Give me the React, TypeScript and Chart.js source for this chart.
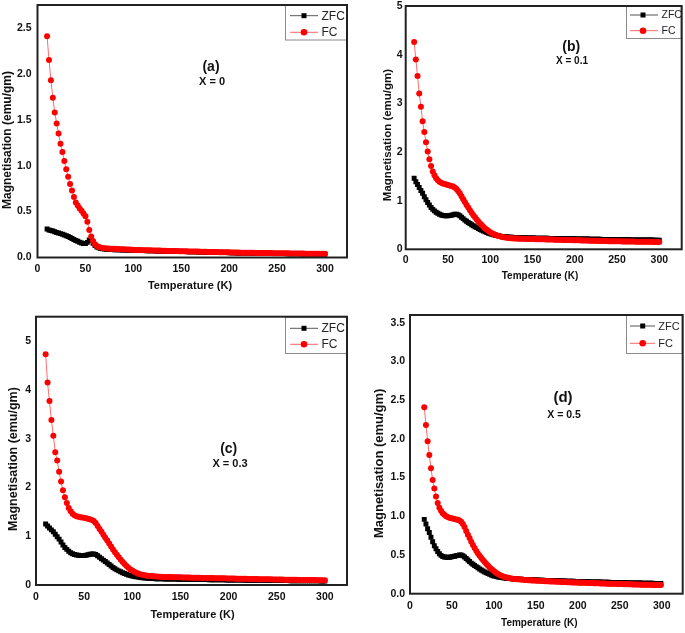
import React, { useEffect, useRef } from "react";
import { Chart, registerables } from "chart.js";
Chart.register(...registerables);

const FONT = "'Liberation Sans', Arial, Helvetica, sans-serif";

// ---------- DATA ----------
const tempsABC = [
  10, 12, 14, 16, 18, 20, 22, 24, 26, 28,
  30, 32, 34, 36, 38, 40, 42, 44, 46, 48,
  50, 52, 54, 56, 58, 60, 62, 64, 66, 68,
  70, 72, 74, 76, 78, 80, 82, 84, 86, 88,
  90, 92, 94, 96, 98, 100, 102, 104, 106, 108,
  110, 112, 114, 116, 118, 120, 122, 124, 126, 128,
  130, 132, 134, 136, 138, 140, 142, 144, 146, 148,
  150, 152, 154, 156, 158, 160, 162, 164, 166, 168,
  170, 172, 174, 176, 178, 180, 182, 184, 186, 188,
  190, 192, 194, 196, 198, 200, 202, 204, 206, 208,
  210, 212, 214, 216, 218, 220, 222, 224, 226, 228,
  230, 232, 234, 236, 238, 240, 242, 244, 246, 248,
  250, 252, 254, 256, 258, 260, 262, 264, 266, 268,
  270, 272, 274, 276, 278, 280, 282, 284, 286, 288,
  290, 292, 294, 296, 298, 300,
];

const tempsD = [
  17, 19, 21, 23, 25, 27, 29, 31, 33, 35,
  37, 39, 41, 43, 45, 47, 49, 51, 53, 55,
  57, 59, 61, 63, 65, 67, 69, 71, 73, 75,
  77, 79, 81, 83, 85, 87, 89, 91, 93, 95,
  97, 99, 101, 103, 105, 107, 109, 111, 113, 115,
  117, 119, 121, 123, 125, 127, 129, 131, 133, 135,
  137, 139, 141, 143, 145, 147, 149, 151, 153, 155,
  157, 159, 161, 163, 165, 167, 169, 171, 173, 175,
  177, 179, 181, 183, 185, 187, 189, 191, 193, 195,
  197, 199, 201, 203, 205, 207, 209, 211, 213, 215,
  217, 219, 221, 223, 225, 227, 229, 231, 233, 235,
  237, 239, 241, 243, 245, 247, 249, 251, 253, 255,
  257, 259, 261, 263, 265, 267, 269, 271, 273, 275,
  277, 279, 281, 283, 285, 287, 289, 291, 293, 295,
  297, 299,
];

const fcA = [
  2.41, 2.15, 1.93, 1.74, 1.58, 1.46, 1.35, 1.24, 1.15, 1.05,
  0.96, 0.88, 0.80, 0.73, 0.66, 0.60, 0.565, 0.535, 0.51, 0.48,
  0.45, 0.39, 0.30, 0.23, 0.18, 0.145, 0.125, 0.115, 0.108, 0.104,
  0.101, 0.099, 0.097, 0.096, 0.095, 0.094, 0.093, 0.092, 0.091, 0.09,
  0.089, 0.088, 0.087, 0.086, 0.085, 0.084, 0.083, 0.083, 0.082, 0.081,
  0.08, 0.08, 0.079, 0.078, 0.078, 0.077, 0.076, 0.076, 0.075, 0.075,
  0.074, 0.073, 0.073, 0.072, 0.072, 0.071, 0.071, 0.07, 0.07, 0.069,
  0.068, 0.068, 0.067, 0.067, 0.066, 0.066, 0.065, 0.065, 0.064, 0.064,
  0.063, 0.063, 0.062, 0.062, 0.061, 0.061, 0.06, 0.06, 0.059, 0.059,
  0.058, 0.058, 0.057, 0.057, 0.056, 0.056, 0.055, 0.055, 0.055, 0.054,
  0.054, 0.053, 0.053, 0.053, 0.052, 0.052, 0.051, 0.051, 0.051, 0.05,
  0.05, 0.05, 0.049, 0.049, 0.049, 0.048, 0.048, 0.048, 0.047, 0.047,
  0.047, 0.046, 0.046, 0.046, 0.045, 0.045, 0.045, 0.044, 0.044, 0.044,
  0.044, 0.043, 0.043, 0.043, 0.043, 0.042, 0.042, 0.042, 0.042, 0.041,
  0.041, 0.041, 0.041, 0.04, 0.04, 0.04,
];

const zfcA = [
  0.31, 0.30, 0.295, 0.288, 0.28, 0.273, 0.266, 0.26, 0.253, 0.245,
  0.237, 0.228, 0.218, 0.207, 0.196, 0.186, 0.176, 0.167, 0.158, 0.152,
  0.152, 0.165, 0.19, 0.185, 0.155, 0.13, 0.115, 0.105, 0.098, 0.094,
  0.091, 0.089, 0.088, 0.087, 0.086, 0.085, 0.084, 0.084, 0.083, 0.082,
  0.081, 0.081, 0.08, 0.079, 0.079, 0.078, 0.077, 0.077, 0.076, 0.076,
  0.075, 0.075, 0.074, 0.073, 0.073, 0.072, 0.072, 0.071, 0.071, 0.07,
  0.07, 0.069, 0.069, 0.068, 0.068, 0.067, 0.067, 0.066, 0.066, 0.065,
  0.065, 0.064, 0.064, 0.063, 0.063, 0.062, 0.062, 0.061, 0.061, 0.06,
  0.06, 0.059, 0.059, 0.058, 0.058, 0.057, 0.057, 0.056, 0.056, 0.055,
  0.055, 0.054, 0.054, 0.053, 0.053, 0.052, 0.052, 0.051, 0.051, 0.05,
  0.05, 0.05, 0.049, 0.049, 0.048, 0.048, 0.048, 0.047, 0.047, 0.047,
  0.046, 0.046, 0.046, 0.045, 0.045, 0.045, 0.044, 0.044, 0.044, 0.043,
  0.043, 0.043, 0.042, 0.042, 0.042, 0.041, 0.041, 0.041, 0.041, 0.04,
  0.04, 0.04, 0.04, 0.039, 0.039, 0.039, 0.039, 0.038, 0.038, 0.038,
  0.038, 0.037, 0.037, 0.037, 0.037, 0.036,
];

const fcB = [
  4.26, 3.9, 3.56, 3.2, 2.93, 2.63, 2.41, 2.2, 2.01, 1.85,
  1.71, 1.6, 1.52, 1.46, 1.42, 1.39, 1.37, 1.35, 1.34, 1.33,
  1.32, 1.31, 1.3, 1.29, 1.27, 1.24, 1.2, 1.15, 1.09, 1.03,
  0.97, 0.91, 0.86, 0.8, 0.75, 0.7, 0.66, 0.61, 0.57, 0.53,
  0.5, 0.46, 0.43, 0.4, 0.375, 0.35, 0.33, 0.315, 0.3, 0.285,
  0.272, 0.262, 0.254, 0.247, 0.241, 0.236, 0.232, 0.229, 0.226, 0.224,
  0.222, 0.22, 0.219, 0.218, 0.217, 0.216, 0.215, 0.214, 0.213, 0.212,
  0.211, 0.21, 0.209, 0.208, 0.207, 0.206, 0.205, 0.204, 0.203, 0.202,
  0.201, 0.2, 0.199, 0.198, 0.197, 0.196, 0.195, 0.194, 0.193, 0.192,
  0.191, 0.19, 0.19, 0.189, 0.188, 0.187, 0.186, 0.185, 0.184, 0.183,
  0.182, 0.181, 0.18, 0.179, 0.178, 0.177, 0.176, 0.175, 0.174, 0.173,
  0.172, 0.172, 0.171, 0.17, 0.169, 0.168, 0.167, 0.166, 0.166, 0.165,
  0.164, 0.163, 0.163, 0.162, 0.161, 0.161, 0.16, 0.159, 0.159, 0.158,
  0.158, 0.157, 0.157, 0.156, 0.156, 0.155, 0.155, 0.154, 0.154, 0.153,
  0.153, 0.153, 0.152, 0.152, 0.152, 0.151,
];

const zfcB = [
  1.46, 1.39, 1.33, 1.27, 1.21, 1.15, 1.08, 1.02, 0.96, 0.91,
  0.86, 0.82, 0.79, 0.76, 0.74, 0.72, 0.705, 0.695, 0.69, 0.69,
  0.69, 0.695, 0.7, 0.71, 0.72, 0.72, 0.71, 0.69, 0.66, 0.63,
  0.6, 0.575, 0.55, 0.53, 0.505, 0.485, 0.465, 0.445, 0.425, 0.405,
  0.39, 0.375, 0.36, 0.345, 0.33, 0.32, 0.31, 0.3, 0.29, 0.283,
  0.277, 0.271, 0.266, 0.262, 0.258, 0.254, 0.251, 0.248, 0.246, 0.244,
  0.242, 0.241, 0.24, 0.239, 0.238, 0.237, 0.236, 0.235, 0.234, 0.233,
  0.232, 0.231, 0.23, 0.23, 0.229, 0.228, 0.228, 0.227, 0.226, 0.226,
  0.225, 0.224, 0.224, 0.223, 0.222, 0.222, 0.221, 0.22, 0.22, 0.219,
  0.218, 0.218, 0.217, 0.216, 0.216, 0.215, 0.214, 0.214, 0.213, 0.212,
  0.212, 0.211, 0.21, 0.21, 0.209, 0.208, 0.208, 0.207, 0.206, 0.206,
  0.205, 0.204, 0.204, 0.203, 0.202, 0.202, 0.201, 0.2, 0.2, 0.199,
  0.199, 0.198, 0.198, 0.197, 0.197, 0.196, 0.196, 0.195, 0.195, 0.194,
  0.194, 0.193, 0.193, 0.193, 0.192, 0.192, 0.191, 0.191, 0.191, 0.19,
  0.19, 0.19, 0.189, 0.189, 0.189, 0.188,
];

const fcC = [
  4.73, 4.15, 3.77, 3.38, 3.06, 2.72, 2.55, 2.32, 2.12, 1.94,
  1.8, 1.68, 1.58, 1.51, 1.46, 1.43, 1.41, 1.4, 1.39, 1.385,
  1.38, 1.37, 1.36, 1.35, 1.33, 1.31, 1.27, 1.21, 1.15, 1.09,
  1.03, 0.97, 0.91, 0.85, 0.79, 0.73, 0.67, 0.62, 0.57, 0.52,
  0.47, 0.43, 0.39, 0.355, 0.32, 0.295, 0.27, 0.25, 0.235, 0.222,
  0.212, 0.204, 0.197, 0.191, 0.186, 0.182, 0.178, 0.175, 0.172, 0.17,
  0.168, 0.166, 0.165, 0.164, 0.163, 0.162, 0.161, 0.16, 0.159, 0.158,
  0.157, 0.156, 0.155, 0.154, 0.153, 0.152, 0.151, 0.15, 0.149, 0.148,
  0.147, 0.146, 0.145, 0.145, 0.144, 0.143, 0.142, 0.141, 0.14, 0.139,
  0.138, 0.137, 0.136, 0.136, 0.135, 0.134, 0.133, 0.132, 0.131, 0.13,
  0.13, 0.129, 0.128, 0.127, 0.126, 0.125, 0.125, 0.124, 0.123, 0.122,
  0.121, 0.12, 0.12, 0.119, 0.118, 0.117, 0.116, 0.116, 0.115, 0.114,
  0.113, 0.112, 0.112, 0.111, 0.11, 0.109, 0.109, 0.108, 0.107, 0.106,
  0.106, 0.105, 0.104, 0.104, 0.103, 0.102, 0.102, 0.101, 0.101, 0.1,
  0.1, 0.099, 0.099, 0.098, 0.098, 0.097,
];

const zfcC = [
  1.25, 1.21, 1.17, 1.13, 1.09, 1.04, 0.99, 0.94, 0.88, 0.82,
  0.77, 0.73, 0.69, 0.66, 0.64, 0.625, 0.615, 0.61, 0.605, 0.605,
  0.605, 0.61, 0.62, 0.63, 0.635, 0.635, 0.625, 0.6, 0.57, 0.54,
  0.51, 0.48, 0.45, 0.42, 0.39, 0.36, 0.335, 0.31, 0.29, 0.27,
  0.25, 0.235, 0.22, 0.205, 0.195, 0.185, 0.175, 0.168, 0.161, 0.155,
  0.15, 0.146, 0.142, 0.139, 0.136, 0.134, 0.132, 0.13, 0.129, 0.128,
  0.127, 0.126, 0.125, 0.124, 0.123, 0.122, 0.121, 0.121, 0.12, 0.119,
  0.118, 0.118, 0.117, 0.116, 0.116, 0.115, 0.114, 0.114, 0.113, 0.112,
  0.112, 0.111, 0.111, 0.11, 0.11, 0.109, 0.108, 0.108, 0.107, 0.107,
  0.106, 0.106, 0.105, 0.105, 0.104, 0.104, 0.103, 0.103, 0.102, 0.102,
  0.101, 0.101, 0.1, 0.1, 0.099, 0.099, 0.098, 0.098, 0.097, 0.097,
  0.096, 0.096, 0.096, 0.095, 0.095, 0.094, 0.094, 0.093, 0.093, 0.093,
  0.092, 0.092, 0.091, 0.091, 0.091, 0.09, 0.09, 0.089, 0.089, 0.089,
  0.088, 0.088, 0.088, 0.087, 0.087, 0.087, 0.086, 0.086, 0.086, 0.085,
  0.085, 0.085, 0.085, 0.084, 0.084, 0.084,
];

const fcD = [
  2.41, 2.18, 1.97, 1.79, 1.62, 1.47, 1.36, 1.255, 1.17, 1.11,
  1.07, 1.04, 1.02, 1.0, 0.99, 0.98, 0.975, 0.97, 0.965, 0.96,
  0.955, 0.945, 0.93, 0.9, 0.86, 0.81, 0.76, 0.72, 0.67, 0.63,
  0.59, 0.55, 0.52, 0.49, 0.46, 0.435, 0.41, 0.385, 0.36, 0.34,
  0.32, 0.302, 0.285, 0.268, 0.254, 0.242, 0.232, 0.223, 0.216, 0.21,
  0.205, 0.2, 0.196, 0.193, 0.19, 0.188, 0.186, 0.184, 0.182, 0.18,
  0.178, 0.177, 0.175, 0.174, 0.172, 0.171, 0.17, 0.168, 0.167, 0.166,
  0.165, 0.163, 0.162, 0.161, 0.16, 0.159, 0.158, 0.157, 0.156, 0.155,
  0.154, 0.153, 0.152, 0.151, 0.15, 0.149, 0.148, 0.147, 0.146, 0.146,
  0.145, 0.144, 0.143, 0.142, 0.141, 0.141, 0.14, 0.139, 0.138, 0.137,
  0.137, 0.136, 0.135, 0.134, 0.134, 0.133, 0.132, 0.131, 0.131, 0.13,
  0.129, 0.129, 0.128, 0.127, 0.127, 0.126, 0.125, 0.125, 0.124, 0.123,
  0.123, 0.122, 0.121, 0.121, 0.12, 0.119, 0.119, 0.118, 0.118, 0.117,
  0.116, 0.116, 0.115, 0.115, 0.114, 0.114, 0.113, 0.113, 0.112, 0.112,
  0.111, 0.111,
];

const zfcD = [
  0.96, 0.9, 0.84, 0.79, 0.73, 0.67, 0.62, 0.58, 0.545, 0.515,
  0.495, 0.48, 0.475, 0.47, 0.47, 0.47, 0.475, 0.48, 0.485, 0.49,
  0.495, 0.5, 0.5, 0.49, 0.475, 0.455, 0.435, 0.415, 0.395, 0.38,
  0.365, 0.35, 0.335, 0.32, 0.305, 0.292, 0.28, 0.27, 0.26, 0.25,
  0.24, 0.233, 0.227, 0.222, 0.217, 0.212, 0.208, 0.205, 0.202, 0.2,
  0.198, 0.196, 0.194, 0.192, 0.19, 0.189, 0.188, 0.187, 0.186, 0.185,
  0.184, 0.183, 0.182, 0.181, 0.18, 0.179, 0.178, 0.177, 0.176, 0.175,
  0.174, 0.173, 0.172, 0.172, 0.171, 0.17, 0.169, 0.168, 0.168, 0.167,
  0.166, 0.165, 0.165, 0.164, 0.163, 0.162, 0.162, 0.161, 0.16, 0.16,
  0.159, 0.158, 0.158, 0.157, 0.156, 0.156, 0.155, 0.154, 0.154, 0.153,
  0.153, 0.152, 0.151, 0.151, 0.15, 0.15, 0.149, 0.148, 0.148, 0.147,
  0.147, 0.146, 0.146, 0.145, 0.145, 0.144, 0.143, 0.143, 0.142, 0.142,
  0.141, 0.141, 0.14, 0.14, 0.139, 0.139, 0.138, 0.138, 0.137, 0.137,
  0.136, 0.136, 0.135, 0.135, 0.135, 0.134, 0.134, 0.133, 0.133, 0.133,
  0.132, 0.132,
];

const seriesNames = ["ZFC", "FC"];
const panelLabels = ["(a)", "(b)", "(c)", "(d)"];
const compositionLabels = ["X = 0", "X = 0.1", "X = 0.3", "X = 0.5"];
const xTitle = "Temperature (K)";
const yTitle = "Magnetisation (emu/gm)";

// ---------- LAYOUT (per panel) ----------
type Panel = {
  left: number; top: number; w: number; h: number;
  pad: { left: number; top: number; right: number; bottom: number };
  yW: number; xH: number;
  xMax: number; yMax: number; yStep: number; yDec: number;
  xPad: number; yPad: number; tickSize: number;
  temps: number[]; zfc: number[]; fc: number[];
  label: string; comp: string;
  labelPos: [number, number]; labelSize: number;
  compPos: [number, number]; compSize: number;
  yTitlePos: [number, number]; yTitleSize: number;
  xTitlePos: [number, number]; xTitleSize: number;
  legBox: [number, number, number, number];
  legRows: [number, number];
  legLine: [number, number]; legMarker: number; legText: number; legSize: number;
};

const panels: Panel[] = [
  {
    left: 0, top: 0, w: 352, h: 300,
    pad: { left: 0, top: 5, right: 5, bottom: 0 }, yW: 37.5, xH: 42.5,
    xMax: 323, yMax: 2.75, yStep: 0.5, yDec: 1, xPad: 5, yPad: 6, tickSize: 10.5,
    temps: tempsABC, zfc: zfcA, fc: fcA,
    label: panelLabels[0], comp: compositionLabels[0],
    labelPos: [211, 67], labelSize: 14, compPos: [212, 82], compSize: 11,
    yTitlePos: [7.5, 140], yTitleSize: 12, xTitlePos: [190, 286], xTitleSize: 11,
    legBox: [285, 5, 347, 40.5], legRows: [15.7, 32.3], legLine: [290, 318], legMarker: 304, legText: 321.5, legSize: 12,
  },
  {
    left: 352, top: 0, w: 333, h: 300,
    pad: { left: 0, top: 6, right: 3.3, bottom: 0 }, yW: 53.7, xH: 50.7,
    xMax: 326.5, yMax: 5, yStep: 1, yDec: 0, xPad: 4.5, yPad: 3, tickSize: 10.5,
    temps: tempsABC, zfc: zfcB, fc: fcB,
    label: panelLabels[1], comp: compositionLabels[1],
    labelPos: [219.3, 46.7], labelSize: 14, compPos: [220, 61.7], compSize: 10,
    yTitlePos: [36.3, 135], yTitleSize: 11.5, xTitlePos: [188, 276.7], xTitleSize: 10,
    legBox: [274, 6, 329.7, 39], legRows: [15, 30.7], legLine: [278, 306], legMarker: 291, legText: 309.5, legSize: 10.5,
  },
  {
    left: 0, top: 300, w: 352, h: 333,
    pad: { left: 0, top: 16.7, right: 5, bottom: 0 }, yW: 36, xH: 48,
    xMax: 323, yMax: 5.5, yStep: 1, yDec: 0, xPad: 5.5, yPad: 5, tickSize: 10.5,
    temps: tempsABC, zfc: zfcC, fc: fcC,
    label: panelLabels[2], comp: compositionLabels[2],
    labelPos: [228.7, 149.3], labelSize: 14, compPos: [230, 164], compSize: 11,
    yTitlePos: [13.3, 159], yTitleSize: 12.5, xTitlePos: [192.5, 315], xTitleSize: 11,
    legBox: [285, 16.7, 347, 54], legRows: [28.3, 44.3], legLine: [290, 318], legMarker: 304, legText: 321.5, legSize: 12,
  },
  {
    left: 352, top: 300, w: 333, h: 333,
    pad: { left: 0, top: 15, right: 2.3, bottom: 0 }, yW: 58, xH: 39.3,
    xMax: 325, yMax: 3.6, yStep: 0.5, yDec: 1, xPad: 6, yPad: 5, tickSize: 10.5,
    temps: tempsD, zfc: zfcD, fc: fcD,
    label: panelLabels[3], comp: compositionLabels[3],
    labelPos: [211, 98.3], labelSize: 15, compPos: [212, 115], compSize: 10.5,
    yTitlePos: [27.3, 163.3], yTitleSize: 13, xTitlePos: [187.3, 323.3], xTitleSize: 10,
    legBox: [274, 15, 330.7, 54], legRows: [26, 43.3], legLine: [278, 303], legMarker: 290.7, legText: 306.3, legSize: 11,
  },
];

function decorPlugin(p: Panel) {
  return {
    id: "decor",
    afterDraw(chart: any) {
      const { ctx, chartArea: a } = chart;
      ctx.save();
      // legend box
      const [bl, bt, br, bb] = p.legBox;
      ctx.fillStyle = "#ffffff";
      ctx.fillRect(bl, bt, br - bl, bb - bt);
      ctx.strokeStyle = "#8a8a8a";
      ctx.lineWidth = 1;
      ctx.strokeRect(bl + 0.5, bt + 0.5, br - bl - 1, bb - bt - 1);
      // legend rows
      const rows = [
        { name: seriesNames[0], line: "#555555", fill: "#000000", square: true },
        { name: seriesNames[1], line: "#ff6a6a", fill: "#ff0000", square: false },
      ];
      rows.forEach((r, i) => {
        const y = p.legRows[i];
        ctx.strokeStyle = r.line;
        ctx.lineWidth = 1;
        ctx.beginPath();
        ctx.moveTo(p.legLine[0], y);
        ctx.lineTo(p.legLine[1], y);
        ctx.stroke();
        ctx.fillStyle = r.fill;
        if (r.square) {
          ctx.fillRect(p.legMarker - 2.5, y - 2.5, 5, 5);
        } else {
          ctx.beginPath();
          ctx.arc(p.legMarker, y, 3.3, 0, Math.PI * 2);
          ctx.fill();
        }
        ctx.fillStyle = "#222222";
        ctx.font = `${p.legSize}px ${FONT}`;
        ctx.textAlign = "left";
        ctx.textBaseline = "middle";
        ctx.fillText(r.name, p.legText, y + 0.5);
      });
      // frame
      ctx.strokeStyle = "#222222";
      ctx.lineWidth = 2;
      ctx.strokeRect(a.left, a.top, a.right - a.left, a.bottom - a.top);
      // titles
      ctx.fillStyle = "#111111";
      ctx.textAlign = "center";
      ctx.textBaseline = "middle";
      ctx.font = `bold ${p.xTitleSize}px ${FONT}`;
      ctx.fillText(xTitle, p.xTitlePos[0], p.xTitlePos[1]);
      ctx.save();
      ctx.translate(p.yTitlePos[0], p.yTitlePos[1]);
      ctx.rotate(-Math.PI / 2);
      ctx.font = `bold ${p.yTitleSize}px ${FONT}`;
      ctx.fillText(yTitle, 0, 0);
      ctx.restore();
      // annotations
      ctx.font = `bold ${p.labelSize}px ${FONT}`;
      ctx.fillText(p.label, p.labelPos[0], p.labelPos[1]);
      ctx.font = `bold ${p.compSize}px ${FONT}`;
      ctx.fillText(p.comp, p.compPos[0], p.compPos[1]);
      ctx.restore();
    },
  };
}

function PanelChart({ p }: { p: Panel }) {
  const ref = useRef<HTMLCanvasElement>(null);
  useEffect(() => {
    const canvas = ref.current;
    if (!canvas) return;
    const tickFont = { family: FONT, size: p.tickSize, weight: "bold" as const };
    const chart = new Chart(canvas, {
      type: "line",
      data: {
        datasets: [
          {
            label: seriesNames[1],
            data: p.temps.map((t, i) => ({ x: t, y: p.fc[i] })),
            borderColor: "rgba(255,60,60,0.75)",
            borderWidth: 1,
            pointStyle: "circle",
            pointRadius: 3,
            pointBackgroundColor: "#ff0000",
            pointBorderWidth: 0,
            tension: 0,
          },
          {
            label: seriesNames[0],
            data: p.temps.map((t, i) => ({ x: t, y: p.zfc[i] })),
            borderColor: "rgba(0,0,0,0.7)",
            borderWidth: 1,
            pointStyle: "rect",
            pointRadius: 3.5,
            pointBackgroundColor: "#000000",
            pointBorderWidth: 0,
            tension: 0,
          },
        ],
      },
      options: {
        animation: false,
        responsive: false,
        events: [],
        layout: { padding: p.pad, autoPadding: false },
        plugins: { legend: { display: false }, tooltip: { enabled: false } },
        scales: {
          x: {
            type: "linear",
            min: 0,
            max: p.xMax,
            grid: { display: false, drawTicks: false },
            border: { display: false },
            ticks: {
              stepSize: 50,
              includeBounds: false,
              padding: p.xPad,
              color: "#111111",
              font: tickFont,
              maxRotation: 0,
              autoSkip: false,
              callback: (v: any) => String(v),
            },
            afterFit: (s: any) => {
              s.height = p.xH;
              s.paddingLeft = 0; s.paddingRight = 0; s.paddingTop = 0; s.paddingBottom = 0;
            },
          },
          y: {
            type: "linear",
            min: 0,
            max: p.yMax,
            grid: { display: false, drawTicks: false },
            border: { display: false },
            ticks: {
              stepSize: p.yStep,
              includeBounds: false,
              padding: p.yPad,
              color: "#111111",
              font: tickFont,
              autoSkip: false,
              callback: (v: any) => Number(v).toFixed(p.yDec),
            },
            afterFit: (s: any) => {
              s.width = p.yW;
              s.paddingLeft = 0; s.paddingRight = 0; s.paddingTop = 0; s.paddingBottom = 0;
            },
          },
        },
      },
      plugins: [decorPlugin(p)],
    });
    return () => chart.destroy();
  }, [p]);
  return (
    <canvas
      ref={ref}
      width={p.w}
      height={p.h}
      style={{ position: "absolute", left: p.left, top: p.top, width: p.w, height: p.h }}
    />
  );
}

export default function App() {
  return (
    <div style={{ position: "absolute", left: 0, top: 0, width: 685, height: 633, background: "#ffffff" }}>
      {panels.map((p, i) => (
        <PanelChart key={i} p={p} />
      ))}
    </div>
  );
}
